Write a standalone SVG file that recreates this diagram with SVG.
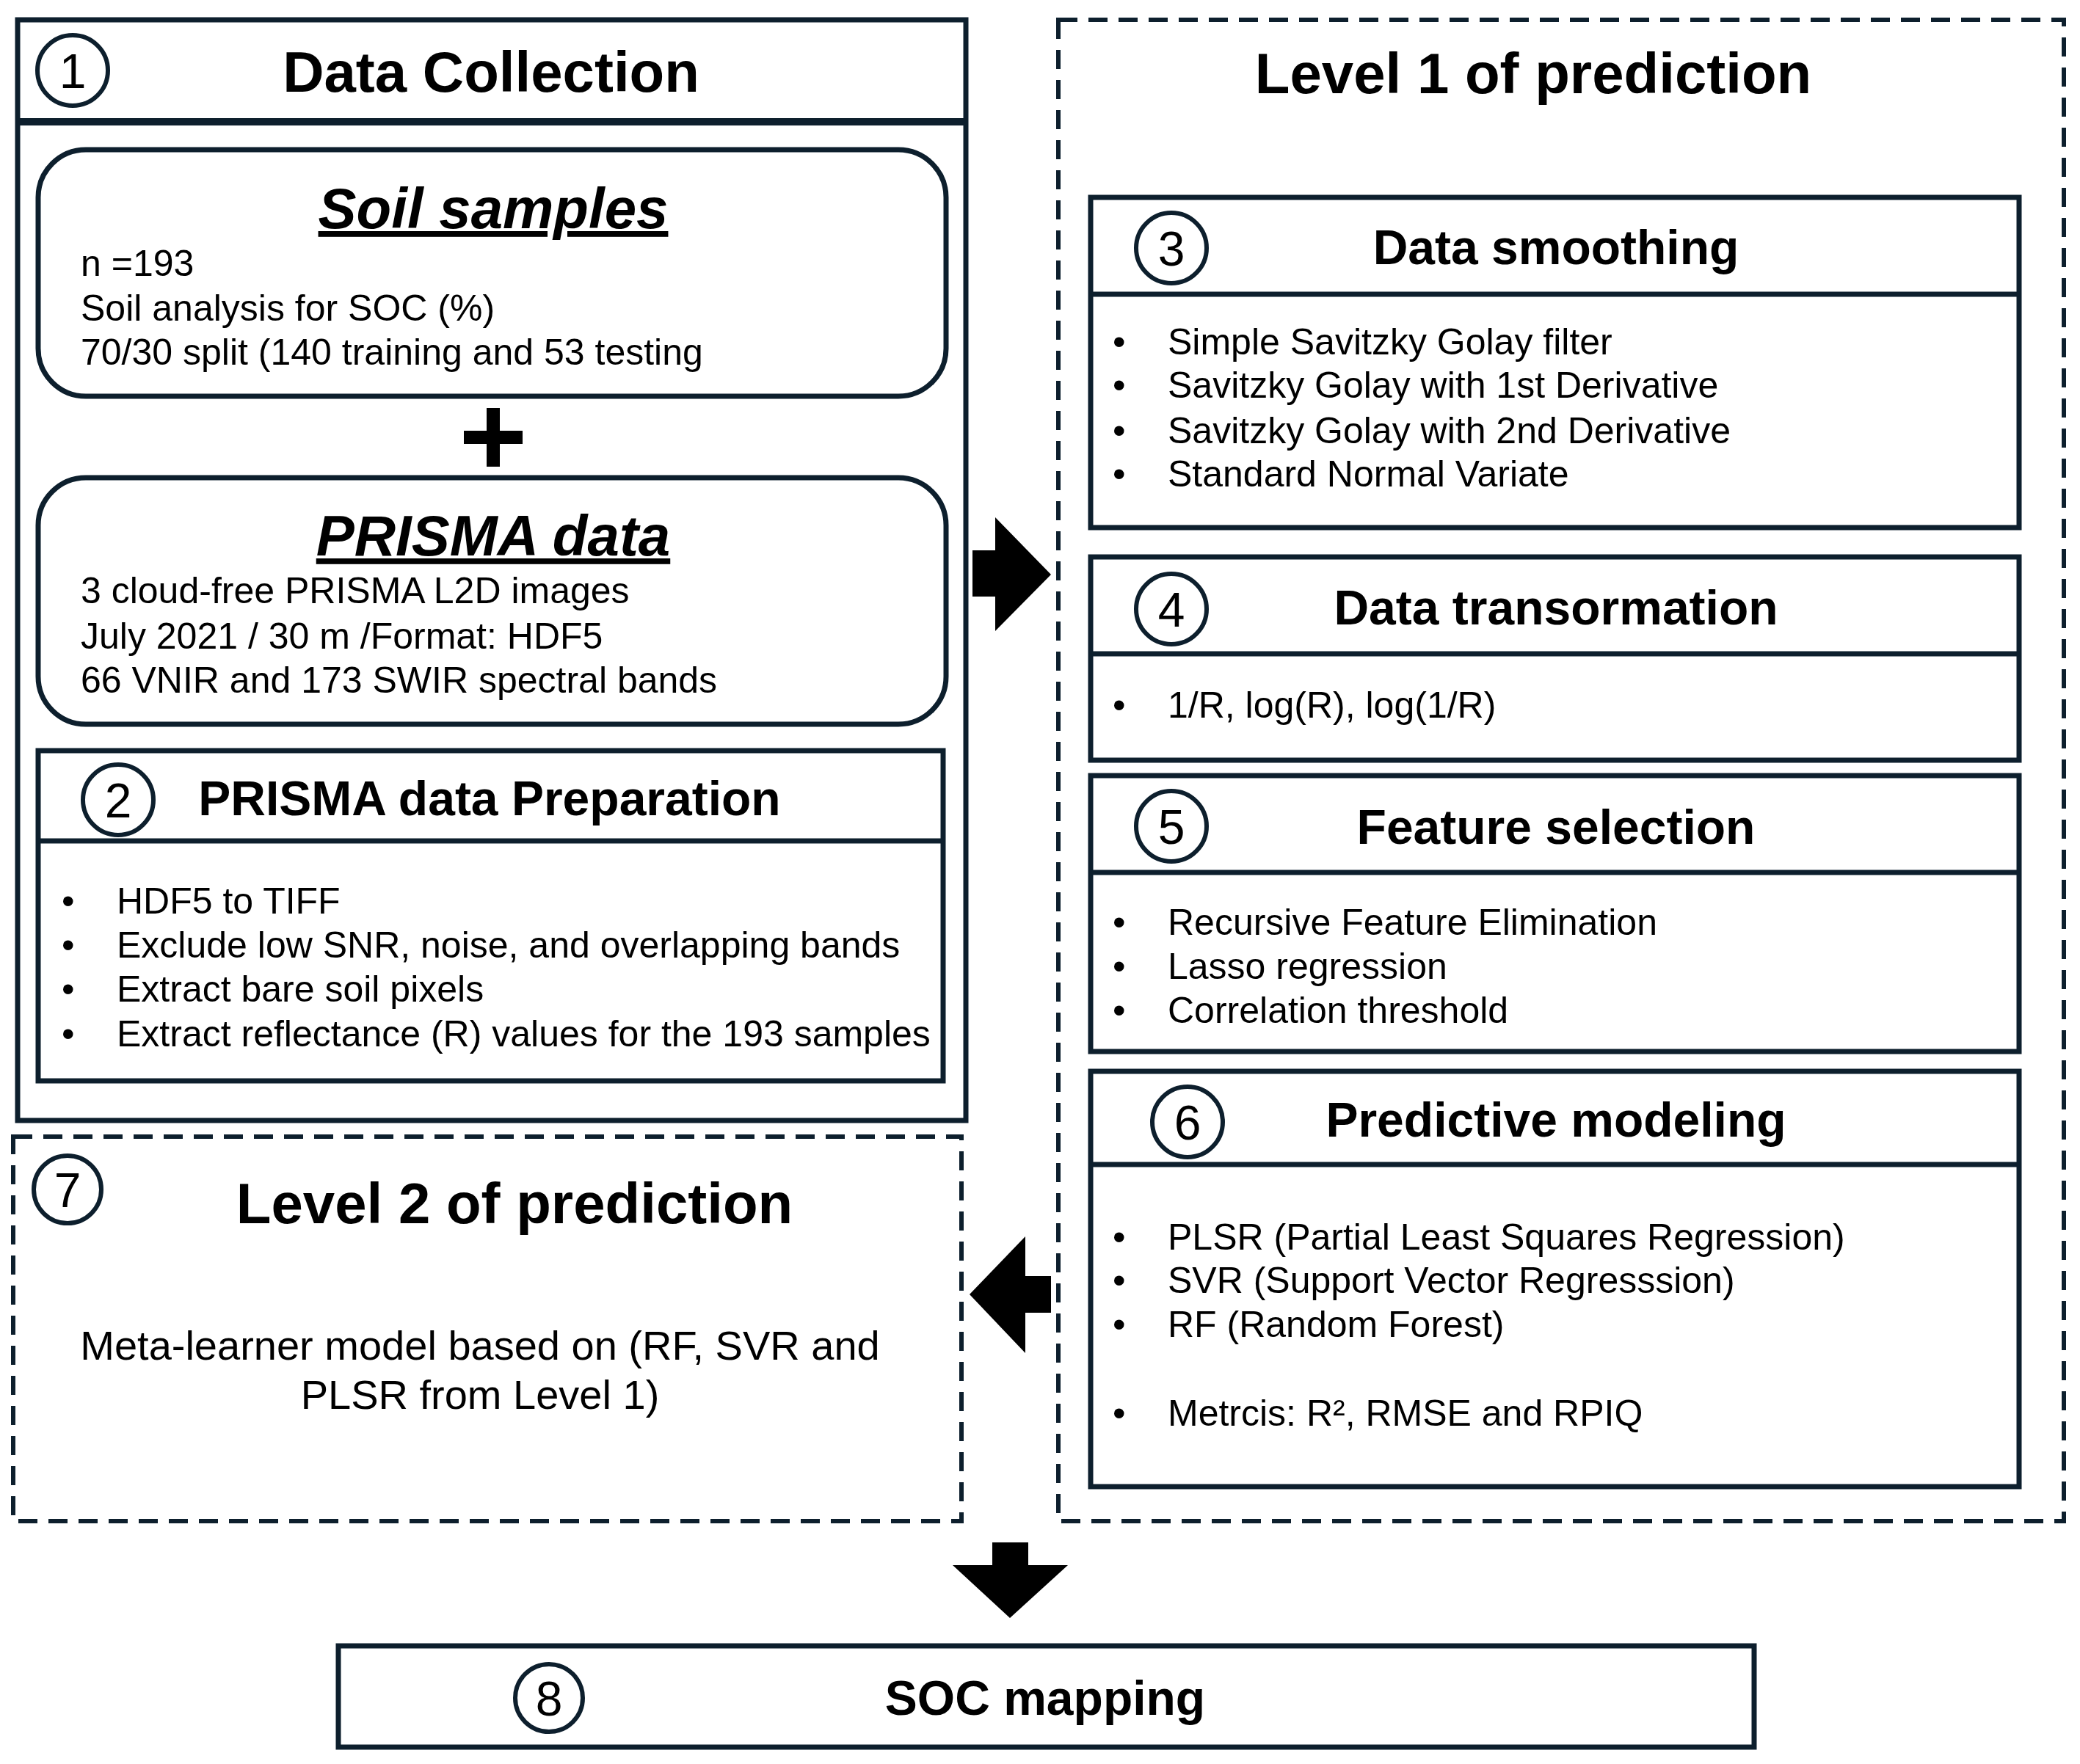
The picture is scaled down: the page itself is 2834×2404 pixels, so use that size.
<svg xmlns="http://www.w3.org/2000/svg" width="2834" height="2404" viewBox="0 0 2834 2404">
<style>
.b{fill:#fff;stroke:#0d1f2d;stroke-width:7}
.d{fill:#fff;stroke:#0d1f2d;stroke-width:6;stroke-dasharray:26 15}
.c{fill:#fff;stroke:#0d1f2d;stroke-width:6}
text{font-family:"Liberation Sans",Arial,sans-serif;fill:#000}
.t{font-size:66px;font-weight:bold;text-anchor:middle}
.T{font-size:78px;font-weight:bold;text-anchor:middle}
.n{font-size:66px;text-anchor:middle}
.s{font-size:50px}
.a{fill:#000}
</style>
<rect width="2834" height="2404" fill="#fff"/>
<g id="n1">
<rect class="b" x="24" y="27" width="1292" height="1500"/>
<line x1="24" y1="166" x2="1316" y2="166" stroke="#0d1f2d" stroke-width="10"/>
<circle class="c" cx="99" cy="96" r="48"/><text class="n" x="99" y="120">1</text>
<text class="T" x="669" y="125">Data Collection</text>
<rect class="b" x="52" y="204" width="1237" height="336" rx="65"/>
<text x="672" y="311" font-size="78" font-weight="bold" font-style="italic" text-anchor="middle" text-decoration="underline">Soil samples</text>
<text class="s" x="110" y="376">n =193</text>
<text class="s" x="110" y="437">Soil analysis for SOC (%)</text>
<text class="s" x="110" y="497">70/30 split (140 training and 53 testing</text>
<rect class="a" x="632" y="587" width="80" height="18"/><rect class="a" x="663" y="556" width="18" height="80"/>
<rect class="b" x="52" y="651" width="1237" height="336" rx="65"/>
<text x="672" y="757" font-size="78" font-weight="bold" font-style="italic" text-anchor="middle" text-decoration="underline">PRISMA data</text>
<text class="s" x="110" y="822">3 cloud-free PRISMA L2D images</text>
<text class="s" x="110" y="884">July 2021 / 30 m /Format: HDF5</text>
<text class="s" x="110" y="944">66 VNIR and 173 SWIR spectral bands</text>
</g>
<g id="n2">
<rect class="b" x="52" y="1023" width="1233" height="450"/>
<line x1="52" y1="1146" x2="1285" y2="1146" stroke="#0d1f2d" stroke-width="7"/>
<circle class="c" cx="161" cy="1090" r="48"/><text class="n" x="161" y="1114">2</text>
<text class="t" x="667" y="1111">PRISMA data Preparation</text>
<g class="s"><text x="84" y="1245">•</text><text x="159" y="1245">HDF5 to TIFF</text>
<text x="84" y="1305">•</text><text x="159" y="1305">Exclude low SNR, noise, and overlapping bands</text>
<text x="84" y="1365">•</text><text x="159" y="1365">Extract bare soil pixels</text>
<text x="84" y="1426">•</text><text x="159" y="1426">Extract reflectance (R) values for the 193 samples</text></g>
</g>
<g id="level1">
<rect class="d" x="1442" y="27" width="1370" height="2046"/>
<text class="T" x="2089" y="127">Level 1 of prediction</text>
</g>
<g id="n3">
<rect class="b" x="1486" y="269" width="1265" height="450"/>
<line x1="1486" y1="401" x2="2751" y2="401" stroke="#0d1f2d" stroke-width="7"/>
<circle class="c" cx="1596" cy="338" r="48"/><text class="n" x="1596" y="362">3</text>
<text class="t" x="2120" y="360">Data smoothing</text>
<g class="s"><text x="1516" y="483">•</text><text x="1591" y="483">Simple Savitzky Golay filter</text>
<text x="1516" y="542">•</text><text x="1591" y="542">Savitzky Golay with 1st Derivative</text>
<text x="1516" y="604">•</text><text x="1591" y="604">Savitzky Golay with 2nd Derivative</text>
<text x="1516" y="663">•</text><text x="1591" y="663">Standard Normal Variate</text></g>
</g>
<g id="n4">
<rect class="b" x="1486" y="759" width="1265" height="277"/>
<line x1="1486" y1="891" x2="2751" y2="891" stroke="#0d1f2d" stroke-width="7"/>
<circle class="c" cx="1596" cy="830" r="48"/><text class="n" x="1596" y="854">4</text>
<text class="t" x="2120" y="851">Data transormation</text>
<g class="s"><text x="1516" y="978">•</text><text x="1591" y="978">1/R, log(R), log(1/R)</text></g>
</g>
<g id="n5">
<rect class="b" x="1486" y="1057" width="1265" height="376"/>
<line x1="1486" y1="1189" x2="2751" y2="1189" stroke="#0d1f2d" stroke-width="7"/>
<circle class="c" cx="1596" cy="1126" r="48"/><text class="n" x="1596" y="1150">5</text>
<text class="t" x="2120" y="1150">Feature selection</text>
<g class="s"><text x="1516" y="1274">•</text><text x="1591" y="1274">Recursive Feature Elimination</text>
<text x="1516" y="1334">•</text><text x="1591" y="1334">Lasso regression</text>
<text x="1516" y="1394">•</text><text x="1591" y="1394">Correlation threshold</text></g>
</g>
<g id="n6">
<rect class="b" x="1486" y="1460" width="1265" height="566"/>
<line x1="1486" y1="1587" x2="2751" y2="1587" stroke="#0d1f2d" stroke-width="7"/>
<circle class="c" cx="1618" cy="1529" r="48"/><text class="n" x="1618" y="1553">6</text>
<text class="t" x="2120" y="1549">Predictive modeling</text>
<g class="s"><text x="1516" y="1703">•</text><text x="1591" y="1703">PLSR (Partial Least Squares Regression)</text>
<text x="1516" y="1762">•</text><text x="1591" y="1762">SVR (Support Vector Regresssion)</text>
<text x="1516" y="1822">•</text><text x="1591" y="1822">RF (Random Forest)</text>
<text x="1516" y="1943">•</text><text x="1591" y="1943">Metrcis: R², RMSE and RPIQ</text></g>
</g>
<g id="n7">
<rect class="d" x="18" y="1549" width="1292" height="524"/>
<circle class="c" cx="92" cy="1621" r="46"/><text class="n" x="92" y="1645">7</text>
<text class="T" x="701" y="1667">Level 2 of prediction</text>
<text x="654" y="1853" font-size="56" text-anchor="middle">Meta-learner model based on (RF, SVR and</text>
<text x="654" y="1920" font-size="56" text-anchor="middle">PLSR from Level 1)</text>
</g>
<g id="n8">
<rect class="b" x="461" y="2243" width="1929" height="138"/>
<circle class="c" cx="748" cy="2314" r="46"/><text class="n" x="748" y="2338">8</text>
<text class="t" x="1424" y="2337">SOC mapping</text>
</g>
<g id="connectors" class="a">
<polygon points="1325,750 1356,750 1356,705 1432,783 1356,860 1356,813 1325,813"/>
<polygon points="1432,1739 1397,1739 1397,1685 1321,1764 1397,1844 1397,1789 1432,1789"/>
<polygon points="1352,2102 1401,2102 1401,2133 1455,2133 1376,2205 1298,2133 1352,2133"/>
</g>
</svg>
